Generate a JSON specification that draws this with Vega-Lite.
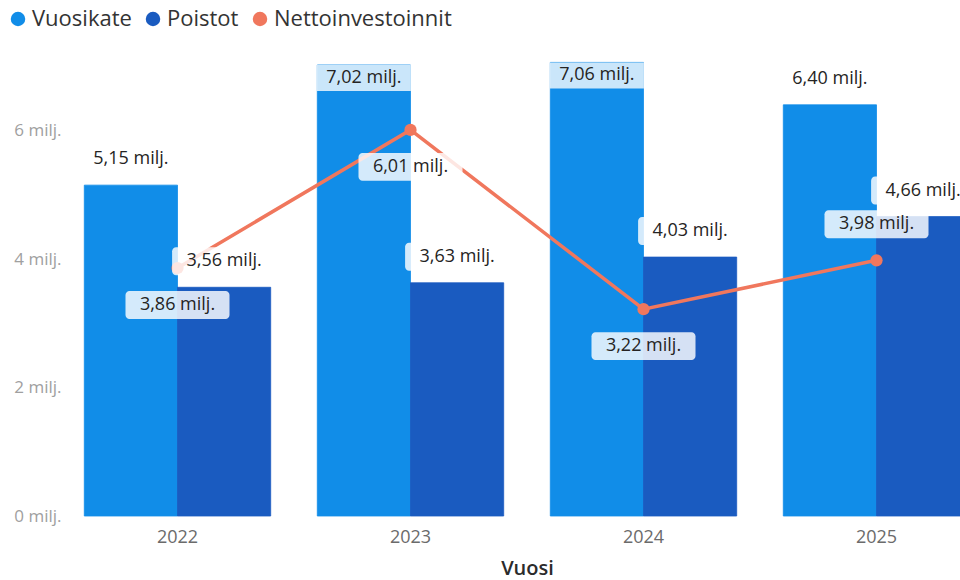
{
  "$schema": "https://vega.github.io/schema/vega-lite/v6.json",
  "width": 899,
  "height": 469,
  "autosize": "none",
  "padding": {"left": 61, "top": 47, "right": 0, "bottom": 64},
  "background": "white",
  "config": {"view": {"stroke": null}, "font": "Open Sans"},
  "data": {"values": [
    {"Vuosi": "2022", "sarja": "Vuosikate", "arvo": 5.15},
    {"Vuosi": "2023", "sarja": "Vuosikate", "arvo": 7.02},
    {"Vuosi": "2024", "sarja": "Vuosikate", "arvo": 7.06},
    {"Vuosi": "2025", "sarja": "Vuosikate", "arvo": 6.40},
    {"Vuosi": "2022", "sarja": "Poistot", "arvo": 3.56},
    {"Vuosi": "2023", "sarja": "Poistot", "arvo": 3.63},
    {"Vuosi": "2024", "sarja": "Poistot", "arvo": 4.03},
    {"Vuosi": "2025", "sarja": "Poistot", "arvo": 4.66},
    {"Vuosi": "2022", "sarja": "Nettoinvestoinnit", "arvo": 3.86},
    {"Vuosi": "2023", "sarja": "Nettoinvestoinnit", "arvo": 6.01},
    {"Vuosi": "2024", "sarja": "Nettoinvestoinnit", "arvo": 3.22},
    {"Vuosi": "2025", "sarja": "Nettoinvestoinnit", "arvo": 3.98}
  ]},
  "transform": [
    {"calculate": "replace(format(datum.arvo, '.2f'), '.', ',') + ' milj.'", "as": "etiketti"}
  ],
  "encoding": {
    "x": {
      "field": "Vuosi", "type": "nominal", "title": "Vuosi",
      "scale": {"range": [0, 932], "paddingInner": 0.2, "paddingOuter": 0.1},
      "axis": {
        "labelAngle": 0, "domain": false, "ticks": false, "grid": false,
        "labelFontSize": 18, "labelColor": "#6b6b6b", "labelPadding": 12,
        "titleFontSize": 20, "titleColor": "#2b2b2b", "titleFontWeight": 600, "titlePadding": 12
      }
    },
    "y": {
      "field": "arvo", "type": "quantitative", "title": null,
      "scale": {"domain": [0, 7.3], "nice": false},
      "axis": {
        "values": [0, 2, 4, 6], "labelExpr": "datum.value + ' milj.'",
        "domain": false, "ticks": false, "grid": false,
        "labelFontSize": 17, "labelColor": "#a0a0a0", "labelPadding": 0
      }
    }
  },
  "layer": [
    {
      "transform": [{"filter": "datum.sarja != 'Nettoinvestoinnit'"}],
      "mark": {"type": "bar", "strokeWidth": 0.8},
      "encoding": {
        "xOffset": {"field": "sarja", "type": "nominal", "scale": {"domain": ["Vuosikate", "Poistot"]}},
        "color": {
          "field": "sarja", "type": "nominal",
          "scale": {"domain": ["Vuosikate", "Poistot", "Nettoinvestoinnit"], "range": ["#118DE8", "#1A5BC0", "#F0775D"]},
          "legend": {
            "title": null, "orient": "none", "legendX": -54, "legendY": -39, "direction": "horizontal",
            "symbolType": "circle", "symbolSize": 210, "labelFontSize": 22, "labelColor": "#333333",
            "columnPadding": 10, "labelOffset": 3, "labelLimit": 0, "symbolStrokeWidth": 0
          }
        },
        "stroke": {
          "field": "sarja", "type": "nominal",
          "scale": {"domain": ["Vuosikate", "Poistot", "Nettoinvestoinnit"], "range": ["#118DE8", "#1A5BC0", "#F0775D"]},
          "legend": null
        }
      }
    },
    {
      "transform": [{"filter": "datum.sarja == 'Nettoinvestoinnit'"}],
      "mark": {"type": "line", "color": "#F0775D", "strokeWidth": 3.5}
    },
    {
      "transform": [{"filter": "datum.sarja == 'Nettoinvestoinnit'"}],
      "mark": {"type": "circle", "color": "#F0775D", "size": 150, "opacity": 1}
    },
    {
      "transform": [{"filter": "(datum.sarja == 'Vuosikate' && (datum.Vuosi == '2022' || datum.Vuosi == '2025')) || datum.sarja == 'Poistot'"}],
      "encoding": {"xOffset": {"field": "sarja", "type": "nominal", "scale": {"domain": ["Vuosikate", "Poistot"]}}},
      "layer": [
        {"mark": {"type": "point", "shape": "M-0.923,-0.269H0.923A0.077,0.077,0,0,1,1,-0.192V0.192A0.077,0.077,0,0,1,0.923,0.269H-0.923A0.077,0.077,0,0,1,-1,0.192V-0.192A0.077,0.077,0,0,1,-0.923,-0.269Z", "size": 10816, "filled": true, "color": "white", "opacity": 0.82, "strokeWidth": 0, "yOffset": -26}},
        {"mark": {"type": "text", "dy": -26, "fontSize": 18, "color": "#252423", "baseline": "middle"}, "encoding": {"text": {"field": "etiketti"}}}
      ]
    },
    {
      "transform": [{"filter": "datum.sarja == 'Vuosikate' && (datum.Vuosi == '2023' || datum.Vuosi == '2024')"}],
      "encoding": {"xOffset": {"field": "sarja", "type": "nominal", "scale": {"domain": ["Vuosikate", "Poistot"]}}},
      "layer": [
        {"mark": {"type": "point", "shape": "M-1,-0.277H1V0.277H-1Z", "size": 8836, "filled": true, "color": "white", "opacity": 0.78, "strokeWidth": 0, "yOffset": 13}},
        {"mark": {"type": "text", "dy": 13, "fontSize": 18, "color": "#252423", "baseline": "middle"}, "encoding": {"text": {"field": "etiketti"}}}
      ]
    },
    {
      "transform": [{"filter": "datum.sarja == 'Nettoinvestoinnit' && datum.Vuosi != '2025'"}],
      "layer": [
        {"mark": {"type": "point", "shape": "M-0.923,-0.269H0.923A0.077,0.077,0,0,1,1,-0.192V0.192A0.077,0.077,0,0,1,0.923,0.269H-0.923A0.077,0.077,0,0,1,-1,0.192V-0.192A0.077,0.077,0,0,1,-0.923,-0.269Z", "size": 10816, "filled": true, "color": "white", "opacity": 0.82, "strokeWidth": 0, "yOffset": 37}},
        {"mark": {"type": "text", "dy": 37, "fontSize": 18, "color": "#252423", "baseline": "middle"}, "encoding": {"text": {"field": "etiketti"}}}
      ]
    },
    {
      "transform": [{"filter": "datum.sarja == 'Nettoinvestoinnit' && datum.Vuosi == '2025'"}],
      "layer": [
        {"mark": {"type": "point", "shape": "M-0.923,-0.269H0.923A0.077,0.077,0,0,1,1,-0.192V0.192A0.077,0.077,0,0,1,0.923,0.269H-0.923A0.077,0.077,0,0,1,-1,0.192V-0.192A0.077,0.077,0,0,1,-0.923,-0.269Z", "size": 10816, "filled": true, "color": "white", "opacity": 0.82, "strokeWidth": 0, "yOffset": -36}},
        {"mark": {"type": "text", "dy": -36, "fontSize": 18, "color": "#252423", "baseline": "middle"}, "encoding": {"text": {"field": "etiketti"}}}
      ]
    }
  ]
}
